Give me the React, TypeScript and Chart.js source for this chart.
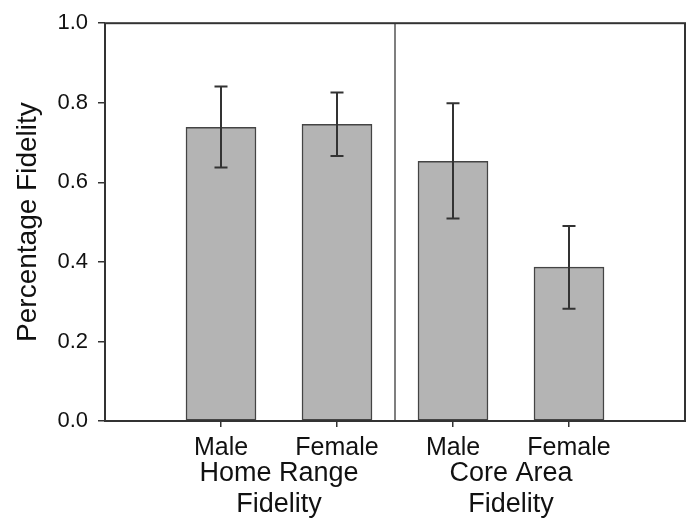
import React, { useEffect, useRef } from 'react';
import { Chart, registerables } from 'chart.js';

Chart.register(...registerables);

const categories = ['Male', 'Female', 'Male', 'Female'];
const groupLabels = [['Home Range', 'Fidelity'], ['Core Area', 'Fidelity']];
const xPositions = [1, 2, 3, 4];
const groupPositions = [1.5, 3.5];
const dividerPosition = 2.5;
const fidelity = [0.738, 0.746, 0.653, 0.387];
const errHigh = [0.841, 0.826, 0.799, 0.49];
const errLow = [0.637, 0.666, 0.509, 0.282];
const yTicks = [0, 0.2, 0.4, 0.6, 0.8, 1.0];

const FONT = "'Liberation Sans', Arial, Helvetica, sans-serif";
const INK = '#333333';

const overlayPlugin = {
  id: 'overlay',
  afterDatasetsDraw(chart: any) {
    const { ctx, chartArea, scales } = chart;
    const x = scales.x;
    const y = scales.y;
    ctx.save();
    // error bars
    ctx.strokeStyle = INK;
    ctx.lineWidth = 2;
    xPositions.forEach((xv, i) => {
      const px = x.getPixelForValue(xv);
      const yh = y.getPixelForValue(errHigh[i]);
      const yl = y.getPixelForValue(errLow[i]);
      ctx.beginPath();
      ctx.moveTo(px, yh);
      ctx.lineTo(px, yl);
      ctx.moveTo(px - 6.5, yh);
      ctx.lineTo(px + 6.5, yh);
      ctx.moveTo(px - 6.5, yl);
      ctx.lineTo(px + 6.5, yl);
      ctx.stroke();
    });
    // divider between groups
    const dx = x.getPixelForValue(dividerPosition);
    ctx.strokeStyle = '#555555';
    ctx.lineWidth = 1.5;
    ctx.beginPath();
    ctx.moveTo(dx, chartArea.top);
    ctx.lineTo(dx, chartArea.bottom);
    ctx.stroke();
    // frame
    ctx.strokeStyle = INK;
    ctx.lineWidth = 2;
    ctx.strokeRect(
      chartArea.left,
      chartArea.top,
      chartArea.right - chartArea.left,
      chartArea.bottom - chartArea.top
    );
    ctx.restore();
  },
};

export default function App() {
  const canvasRef = useRef<HTMLCanvasElement | null>(null);

  useEffect(() => {
    if (!canvasRef.current) return;
    const chart = new Chart(canvasRef.current, {
      type: 'bar',
      data: {
        datasets: [
          {
            data: xPositions.map((xv, i) => ({ x: xv, y: fidelity[i] })),
            backgroundColor: '#b4b4b4',
            borderColor: '#444444',
            borderWidth: 1.5,
            borderSkipped: false,
            barThickness: 70,
            xAxisID: 'x',
            yAxisID: 'y',
          },
        ],
      },
      options: {
        animation: false,
        responsive: true,
        maintainAspectRatio: false,
        layout: { padding: { top: 14, right: 2, left: 0, bottom: 0 } },
        plugins: {
          legend: { display: false },
          tooltip: { enabled: false },
        },
        scales: {
          x: {
            type: 'linear',
            position: 'bottom',
            offset: false,
            min: 0,
            max: 5,
            afterBuildTicks: (s: any) => {
              s.ticks = xPositions.map((v) => ({ value: v }));
            },
            afterFit: (s: any) => {
              s.height = 34;
            },
            grid: {
              offset: false,
              drawOnChartArea: false,
              drawTicks: true,
              tickLength: 6,
              color: INK,
              tickColor: INK,
              lineWidth: 1.5,
            },
            border: { display: false },
            ticks: {
              autoSkip: false,
              maxRotation: 0,
              padding: 6,
              color: '#111111',
              font: { family: FONT, size: 25 },
              callback: (v: any) => {
                const i = xPositions.indexOf(Number(v));
                return i >= 0 ? categories[i] : '';
              },
            },
          },
          x2: {
            type: 'linear',
            position: 'bottom',
            offset: false,
            min: 0,
            max: 5,
            afterBuildTicks: (s: any) => {
              s.ticks = groupPositions.map((v) => ({ value: v }));
            },
            afterFit: (s: any) => {
              s.height = 65;
            },
            grid: { display: false, drawTicks: false, offset: false },
            border: { display: false },
            ticks: {
              autoSkip: false,
              maxRotation: 0,
              padding: 3,
              color: '#111111',
              font: { family: FONT, size: 27, lineHeight: 1.16 },
              callback: (v: any) => {
                const i = groupPositions.indexOf(Number(v));
                return i >= 0 ? groupLabels[i] : '';
              },
            },
          },
          y: {
            type: 'linear',
            min: 0,
            max: 1,
            afterBuildTicks: (s: any) => {
              s.ticks = yTicks.map((v) => ({ value: v }));
            },
            afterFit: (s: any) => {
              s.width = 105;
            },
            grid: {
              drawOnChartArea: false,
              drawTicks: true,
              tickLength: 7,
              color: INK,
              tickColor: INK,
              lineWidth: 1.5,
            },
            border: { display: false },
            ticks: {
              padding: 10,
              color: '#111111',
              font: { family: FONT, size: 22 },
              callback: (v: any) => Number(v).toFixed(1),
            },
            title: {
              display: true,
              text: 'Percentage Fidelity',
              color: '#111111',
              font: { family: FONT, size: 28 },
              padding: { top: 11, bottom: 0 },
            },
          },
        },
      } as any,
      plugins: [overlayPlugin],
    });
    return () => chart.destroy();
  }, []);

  return (
    <div style={{ position: 'absolute', left: 0, top: 0, width: 687, height: 520, background: '#ffffff' }}>
      <canvas ref={canvasRef} />
    </div>
  );
}
